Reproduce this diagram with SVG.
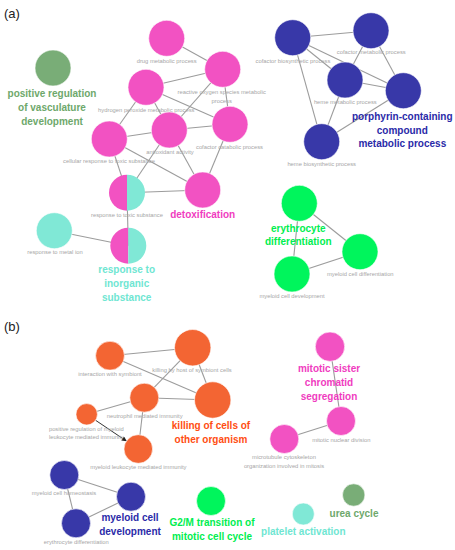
<svg xmlns="http://www.w3.org/2000/svg" width="455" height="550" viewBox="0 0 455 550">
<defs>
<marker id="arr" viewBox="0 0 10 10" refX="9" refY="5" markerWidth="5" markerHeight="5" orient="auto" markerUnits="userSpaceOnUse">
<path d="M0,0 L10,5 L0,10 z" fill="#222"/>
</marker>
</defs>
<style>
text{font-family:"Liberation Sans",Arial,sans-serif;text-anchor:middle}
.s{font-size:5.8px;fill:#a6a6a6}
.b{font-size:10px;font-weight:bold}
.p{fill:#f252c2}.c{fill:#80e8d6}.n{fill:#3838a8}.g{fill:#00f55c}.v{fill:#79ad77}.o{fill:#f36533}
.tp{fill:#f03cc0}.tc{fill:#6fe6d2}.tn{fill:#2a2aa8}.tg{fill:#00ee50}.tv{fill:#6ea86b}.to{fill:#ff4d12}
circle{stroke:#fff;stroke-width:0.6}
#connectors line{stroke:#9c9c9c;stroke-width:1.1}
.hdr{font-size:13px;fill:#222;text-anchor:start}
</style>
<rect width="455" height="550" fill="#fff"/>
<text class="hdr" x="4" y="18">(a)</text>
<text class="hdr" x="4" y="331">(b)</text>
<g id="connectors">
<line x1="166.7" y1="38.3" x2="222.7" y2="69.3"/>
<line x1="146" y1="87.3" x2="222.7" y2="69.3"/>
<line x1="222.7" y1="69.3" x2="169.3" y2="130"/>
<line x1="222.7" y1="69.3" x2="230" y2="124.3"/>
<line x1="146" y1="87.3" x2="230" y2="124.3"/>
<line x1="146" y1="87.3" x2="109.3" y2="139"/>
<line x1="146" y1="87.3" x2="202.7" y2="190"/>
<line x1="109.3" y1="139" x2="169.3" y2="130"/>
<line x1="169.3" y1="130" x2="230" y2="124.3"/>
<line x1="109.3" y1="139" x2="202.7" y2="190"/>
<line x1="109.3" y1="139" x2="127" y2="192.7"/>
<line x1="169.3" y1="130" x2="127" y2="192.7"/>
<line x1="127" y1="192.7" x2="202.7" y2="190"/>
<line x1="230" y1="124.3" x2="202.7" y2="190"/>
<line x1="127" y1="192.7" x2="128.3" y2="245.7"/>
<line x1="54.3" y1="230.7" x2="128.3" y2="245.7"/>
<line x1="292.7" y1="37.7" x2="371" y2="30.7"/>
<line x1="292.7" y1="37.7" x2="345" y2="80"/>
<line x1="292.7" y1="37.7" x2="403.3" y2="90.7"/>
<line x1="292.7" y1="37.7" x2="321.7" y2="141.7"/>
<line x1="371" y1="30.7" x2="345" y2="80"/>
<line x1="371" y1="30.7" x2="403.3" y2="90.7"/>
<line x1="345" y1="80" x2="403.3" y2="90.7"/>
<line x1="345" y1="80" x2="321.7" y2="141.7"/>
<line x1="321.7" y1="141.7" x2="403.3" y2="90.7"/>
<line x1="299.3" y1="203.3" x2="360" y2="251.7"/>
<line x1="299.3" y1="203.3" x2="292" y2="274"/>
<line x1="292" y1="274" x2="360" y2="251.7"/>
<line x1="110" y1="355.7" x2="192.7" y2="347.7"/>
<line x1="110" y1="355.7" x2="212.7" y2="400"/>
<line x1="192.7" y1="347.7" x2="144.3" y2="397.7"/>
<line x1="192.7" y1="347.7" x2="212.7" y2="400"/>
<line x1="144.3" y1="397.7" x2="212.7" y2="400"/>
<line x1="144.3" y1="397.7" x2="86.7" y2="414.3"/>
<line x1="144.3" y1="397.7" x2="138.3" y2="449"/>
<line x1="95.6" y1="420.3" x2="126.4" y2="441" style="stroke:#333;stroke-width:1" marker-end="url(#arr)"/>
<line x1="64.3" y1="475" x2="131" y2="496.7"/>
<line x1="64.3" y1="475" x2="76" y2="523.3"/>
<line x1="76" y1="523.3" x2="131" y2="496.7"/>
<line x1="330" y1="346.7" x2="341" y2="421"/>
<line x1="284.3" y1="439" x2="341" y2="421"/>
</g>
<g id="vasculature"><circle class="v" cx="53" cy="68" r="18"/><text class="b tv"><tspan x="52" y="97">positive regulation</tspan><tspan x="52" y="111">of vasculature</tspan><tspan x="52" y="125">development</tspan></text></g>
<g id="drug"><circle class="p" cx="166.7" cy="38.3" r="18"/><text class="s" x="166.7" y="62.5">drug metabolic process</text></g>
<g id="ros"><circle class="p" cx="222.7" cy="69.3" r="18"/><text class="s"><tspan x="221.7" y="94.3">reactive oxygen species metabolic</tspan><tspan x="221.7" y="102.7">process</tspan></text></g>
<g id="h2o2"><circle class="p" cx="146" cy="87.3" r="18"/><text class="s" x="146.3" y="112.3">hydrogen peroxide metabolic process</text></g>
<g id="cellular"><circle class="p" cx="109.3" cy="139" r="18"/><text class="s" x="109" y="163.3">cellular response to toxic substance</text></g>
<g id="antioxidant"><circle class="p" cx="169.3" cy="130" r="18"/><text class="s" x="170" y="154">antioxidant activity</text></g>
<g id="cofcat"><circle class="p" cx="230" cy="124.3" r="18"/><text class="s" x="229.5" y="148.7">cofactor catabolic process</text></g>
<g id="toxic"><path class="p" d="M127,174.7 A18,18 0 0 0 127,210.7 Z"/><path class="c" d="M127,174.7 A18,18 0 0 1 127,210.7 Z"/><text class="s" x="127" y="216.7">response to toxic substance</text></g>
<g id="detox"><circle class="p" cx="202.7" cy="190" r="18"/><text class="b tp" x="202.7" y="218.3">detoxification</text></g>
<g id="metalion"><circle class="c" cx="54.3" cy="230.7" r="18"/><text class="s" x="55" y="254.3">response to metal ion</text></g>
<g id="inorganic"><path class="p" d="M128.3,227.7 A18,18 0 0 0 128.3,263.7 Z"/><path class="c" d="M128.3,227.7 A18,18 0 0 1 128.3,263.7 Z"/><text class="b tc"><tspan x="126.7" y="273.3">response to</tspan><tspan x="126.7" y="287.3">inorganic</tspan><tspan x="126.7" y="301">substance</tspan></text></g>
<g id="cofbio"><circle class="n" cx="292.7" cy="37.7" r="18"/><text class="s" x="293" y="63.3">cofactor biosynthetic process</text></g>
<g id="cofmeta"><circle class="n" cx="371" cy="30.7" r="18"/><text class="s" x="371.3" y="54.3">cofactor metabolic process</text></g>
<g id="hememeta"><circle class="n" cx="345" cy="80" r="18"/><text class="s" x="345.3" y="104.3">heme metabolic process</text></g>
<g id="porphyrin"><circle class="n" cx="403.3" cy="90.7" r="18"/><text class="b tn"><tspan x="402.3" y="120">porphyrin-containing</tspan><tspan x="402.3" y="133.5">compound</tspan><tspan x="402.3" y="147.3">metabolic process</tspan></text></g>
<g id="hemebio"><circle class="n" cx="321.7" cy="141.7" r="18"/><text class="s" x="321.7" y="165.7">heme biosynthetic process</text></g>
<g id="erythro"><circle class="g" cx="299.3" cy="203.3" r="18"/><text class="b tg"><tspan x="298.3" y="231.7">erythrocyte</tspan><tspan x="298.3" y="245.3">differentiation</tspan></text></g>
<g id="myelodiff"><circle class="g" cx="360" cy="251.7" r="18"/><text class="s" x="360.3" y="276">myeloid cell differentiation</text></g>
<g id="myelodev"><circle class="g" cx="292" cy="274" r="18"/><text class="s" x="292" y="298.3">myeloid cell development</text></g>
<g id="interaction"><circle class="o" cx="110" cy="355.7" r="14.4"/><text class="s" x="110" y="375.7">interaction with symbiont</text></g>
<g id="killhost"><circle class="o" cx="192.7" cy="347.7" r="18.2"/><text class="s" x="192" y="372.3">killing by host of symbiont cells</text></g>
<g id="neutrophil"><circle class="o" cx="144.3" cy="397.7" r="14.5"/><text class="s" x="144.7" y="418.3">neutrophil mediated immunity</text></g>
<g id="killother"><circle class="o" cx="212.7" cy="400" r="18.2"/><text class="b to"><tspan x="211" y="428.6">killing of cells of</tspan><tspan x="211" y="442.6">other organism</tspan></text></g>
<g id="posreg"><circle class="o" cx="86.7" cy="414.3" r="10.7"/><text class="s"><tspan x="86.3" y="431">positive regulation of myeloid</tspan><tspan x="86.3" y="439.4">leukocyte mediated immunity</tspan></text></g>
<g id="myeloleuk"><circle class="o" cx="138.3" cy="449" r="14.3"/><text class="s" x="138.3" y="469.3">myeloid leukocyte mediated immunity</text></g>
<g id="homeostasis"><circle class="n" cx="64.3" cy="475" r="14.5"/><text class="s" x="64" y="495">myeloid cell homeostasis</text></g>
<g id="mdev"><circle class="n" cx="131" cy="496.7" r="14.5"/><text class="b tn"><tspan x="130" y="521">myeloid cell</tspan><tspan x="130" y="535">development</tspan></text></g>
<g id="erydiff"><circle class="n" cx="76" cy="523.3" r="14.5"/><text class="s" x="76.3" y="544">erythrocyte differentiation</text></g>
<g id="g2m"><circle class="g" cx="211" cy="501" r="14.5"/><text class="b tg"><tspan x="212" y="526">G2/M transition of</tspan><tspan x="212" y="540">mitotic cell cycle</tspan></text></g>
<g id="sister"><circle class="p" cx="330" cy="346.7" r="14.7"/><text class="b tp"><tspan x="329" y="371.7">mitotic sister</tspan><tspan x="329" y="385.7">chromatid</tspan><tspan x="329" y="399.5">segregation</tspan></text></g>
<g id="nuclear"><circle class="p" cx="341" cy="421" r="14.5"/><text class="s" x="341.3" y="441.7">mitotic nuclear division</text></g>
<g id="microtubule"><circle class="p" cx="284.3" cy="439" r="14.5"/><text class="s"><tspan x="284" y="459.3">microtubule cytoskeleton</tspan><tspan x="284" y="467.7">organization involved in mitosis</tspan></text></g>
<g id="urea"><circle class="v" cx="353.7" cy="495" r="11.2"/><text class="b tv" x="354" y="516.7">urea cycle</text></g>
<g id="platelet"><circle class="c" cx="303.3" cy="514" r="11"/><text class="b tc" x="303.3" y="535">platelet activation</text></g>
</svg>
